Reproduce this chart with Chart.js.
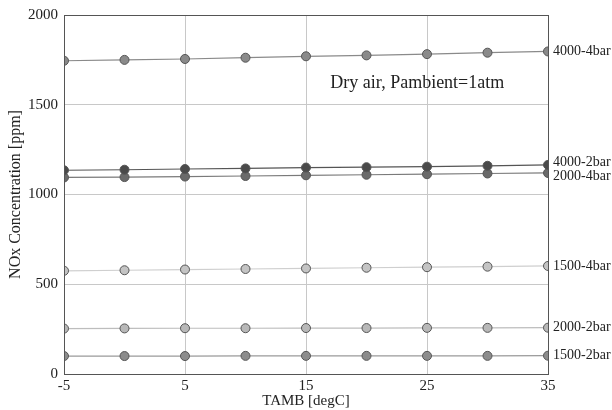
<!DOCTYPE html>
<html>
<head>
<meta charset="utf-8">
<script src="https://cdn.jsdelivr.net/npm/chart.js@4"></script>
<style>
  body { margin: 0; background: #fff; }
  #wrap { width: 612px; height: 410px; }
</style>
</head>
<body>
<div id="wrap"><canvas id="noxChart" width="612" height="410"></canvas></div>
<script>
// ambient temperature points
const tamb = [-5, 0, 5, 10, 15, 20, 25, 30, 35];
const xTicks = [-5, 5, 15, 25, 35];
const yTicks = [0, 500, 1000, 1500, 2000];

// NOx values
const nox4000_4bar = [1745, 1750, 1755, 1762, 1770, 1775, 1782, 1790, 1797];
const nox4000_2bar = [1135, 1138, 1142, 1145, 1150, 1152, 1155, 1160, 1165];
const nox2000_4bar = [1095, 1097, 1100, 1103, 1107, 1110, 1113, 1117, 1120];
const nox1500_4bar = [575, 578, 582, 585, 588, 592, 595, 598, 602];
const nox2000_2bar = [253, 254, 255, 255, 256, 256, 257, 257, 258];
const nox1500_2bar = [100, 100, 100, 101, 101, 101, 101, 101, 102];

const labels = ['4000-4bar', '4000-2bar', '2000-4bar', '1500-4bar', '2000-2bar', '1500-2bar'];
const series = [nox4000_4bar, nox4000_2bar, nox2000_4bar, nox1500_4bar, nox2000_2bar, nox1500_2bar];
const fills = ['#8a8a8a', '#4a4a4a', '#6a6a6a', '#c4c4c4', '#b8b8b8', '#8c8c8c'];
const lines = ['#8a8a8a', '#555555', '#7a7a7a', '#cfcfcf', '#bdbdbd', '#9a9a9a'];
const labelOffsetY = [0, -3, 3, 0, 0, 0];

const serif = '"Liberation Serif", "DejaVu Serif", serif';

const datasets = series.map((vals, i) => ({
  label: labels[i],
  data: vals.map((v, j) => ({ x: tamb[j], y: v })),
  borderColor: lines[i],
  borderWidth: 1.2,
  pointRadius: 4.5,
  pointBackgroundColor: fills[i],
  pointBorderColor: '#555',
  pointBorderWidth: 1,
  tension: 0,
  fill: false
}));

// frame, end labels and the note
const extras = {
  id: 'extras',
  afterDraw(chart) {
    const c = chart.ctx;
    const a = chart.chartArea;
    const xs = chart.scales.x, ys = chart.scales.y;
    c.save();
    c.strokeStyle = '#555';
    c.lineWidth = 1;
    c.strokeRect(a.left + 0.5, a.top + 0.5, a.right - a.left, a.bottom - a.top);

    c.fillStyle = '#222';
    c.font = '14px ' + serif;
    c.textBaseline = 'middle';
    c.textAlign = 'left';
    chart.data.datasets.forEach((ds, i) => {
      const last = ds.data[ds.data.length - 1];
      c.fillText(ds.label, xs.getPixelForValue(last.x) + 5, ys.getPixelForValue(last.y) + labelOffsetY[i]);
    });

    c.font = '18px ' + serif;
    c.textAlign = 'center';
    c.fillText('Dry air, Pambient=1atm', xs.getPixelForValue(24.2), ys.getPixelForValue(1621));
    c.restore();
  }
};

new Chart(document.getElementById('noxChart').getContext('2d'), {
  type: 'line',
  data: { datasets },
  options: {
    responsive: false,
    animation: false,
    layout: { padding: { top: 15, right: 64, left: 6, bottom: 0 } },
    plugins: { legend: { display: false }, tooltip: { enabled: false } },
    scales: {
      x: {
        type: 'linear',
        min: -5, max: 35,
        afterBuildTicks: s => { s.ticks = xTicks.map(v => ({ value: v })); },
        afterFit: s => { s.height = 36; },
        grid: { color: '#c8c8c8', drawTicks: false, lineWidth: 1 },
        border: { display: false },
        ticks: { color: '#222', font: { family: serif, size: 15 }, padding: 3, callback: v => String(v) },
        title: { display: true, text: 'TAMB [degC]', color: '#222', font: { family: serif, size: 15 }, padding: { top: 0, bottom: 0 } }
      },
      y: {
        min: 0, max: 2000,
        afterBuildTicks: s => { s.ticks = yTicks.map(v => ({ value: v })); },
        afterFit: s => { s.width = 58; },
        grid: { color: '#c8c8c8', drawTicks: false, lineWidth: 1 },
        border: { display: false },
        ticks: { color: '#222', font: { family: serif, size: 15 }, padding: 6, callback: v => String(v) },
        title: { display: true, text: 'NOx Concentration [ppm]', color: '#222', font: { family: serif, size: 16 }, padding: { top: 0, bottom: 2 } }
      }
    }
  },
  plugins: [extras]
});
</script>
</body>
</html>
